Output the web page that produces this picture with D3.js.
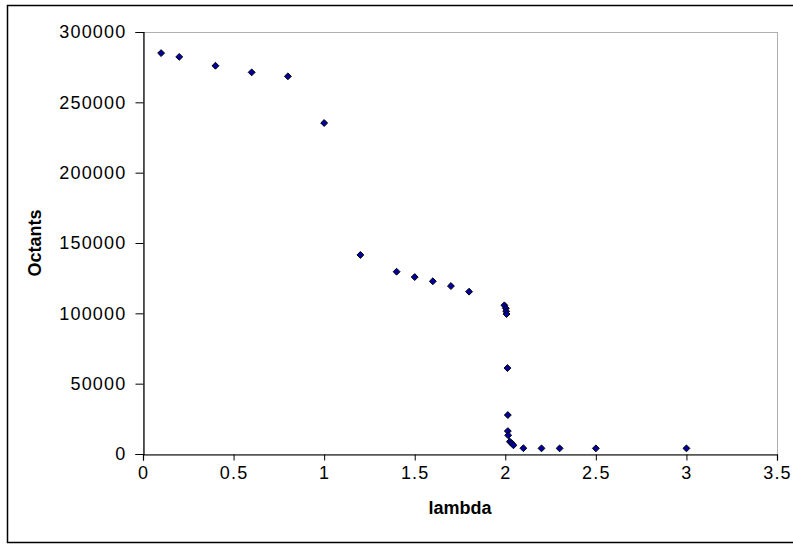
<!DOCTYPE html>
<html>
<head>
<meta charset="utf-8">
<script src="https://cdn.jsdelivr.net/npm/d3@7"></script>
<style>
  body { margin: 0; background: #fff; overflow: hidden; }
  svg { display: block; font-family: "Liberation Sans", Arial, sans-serif; }
</style>
</head>
<body>
<svg id="chart" width="793" height="544"></svg>
<script>
// lambda vs number of octants
var lambdaVals = [0.1, 0.2, 0.4, 0.6, 0.8, 1.0, 1.2, 1.4, 1.5, 1.6, 1.7, 1.8,
  1.995, 2.003, 2.005, 2.007, 2.012, 2.014, 2.014, 2.016, 2.025, 2.035, 2.045,
  2.1, 2.2, 2.3, 2.5, 3.0];
var octantVals = [285000, 282300, 276000, 271300, 268500, 235300, 141500, 129600, 125800, 122800, 119400, 115400,
  105700, 103600, 101400, 99500, 61100, 27700, 16300, 13300, 8800, 7600, 6200,
  4100, 4000, 4000, 4000, 4000];
var xTicks = [0, 0.5, 1, 1.5, 2, 2.5, 3, 3.5];
var yTicks = [0, 50000, 100000, 150000, 200000, 250000, 300000];

var points = lambdaVals.map(function(d, i) { return { x: d, y: octantVals[i] }; });

var svg = d3.select('#chart');
var margin = { left: 143, top: 32, right: 777, bottom: 454 };

// outer chart border (right side falls outside the window)
svg.append('path')
  .attr('d', 'M793,5.5 H7.5 V542.5 H793')
  .attr('fill', 'none').attr('stroke', '#000').attr('stroke-width', 1.5);

var x = d3.scaleLinear().domain([0, 3.5]).range([margin.left, margin.right]);
var y = d3.scaleLinear().domain([0, 300000]).range([margin.bottom, margin.top]);

// plot area frame
svg.append('rect')
  .attr('x', margin.left + 0.5).attr('y', margin.top + 0.5)
  .attr('width', margin.right - margin.left).attr('height', margin.bottom - margin.top)
  .attr('fill', 'none').attr('stroke', '#b0b0b0').attr('stroke-width', 1);

var xAxis = svg.append('g')
  .attr('transform', 'translate(0,' + (margin.bottom + 0.5) + ')')
  .call(d3.axisBottom(x).tickValues(xTicks).tickSize(6).tickPadding(6)
    .tickFormat(function(d) { return String(d); }));

var yAxis = svg.append('g')
  .attr('transform', 'translate(' + (margin.left + 0.5) + ',0)')
  .call(d3.axisLeft(y).tickValues(yTicks).tickSize(8).tickPadding(9)
    .tickFormat(function(d) { return String(d); }));

[xAxis, yAxis].forEach(function(g) {
  g.select('.domain').attr('stroke', '#000').attr('stroke-width', 1.2);
  g.selectAll('.tick line').attr('stroke', '#000');
  g.selectAll('.tick text')
    .attr('fill', '#000')
    .style('font-size', '18px')
    .style('letter-spacing', '1.2px')
    .style('font-family', '"Liberation Sans", Arial, sans-serif');
});

// diamond markers
var diamond = d3.symbol().type(d3.symbolDiamond2).size(30);

svg.append('g').selectAll('path')
  .data(points)
  .enter()
  .append('path')
  .attr('d', diamond)
  .attr('transform', function(d) { return 'translate(' + x(d.x) + ',' + y(d.y) + ')'; })
  .attr('fill', '#0000a0')
  .attr('stroke', '#000')
  .attr('stroke-width', 1);

svg.append('text')
  .attr('x', (margin.left + margin.right) / 2)
  .attr('y', 514)
  .attr('text-anchor', 'middle')
  .style('font-size', '18px')
  .style('font-weight', 'bold')
  .text('lambda');

svg.append('text')
  .attr('transform', 'translate(41,' + ((margin.top + margin.bottom) / 2) + ') rotate(-90)')
  .attr('text-anchor', 'middle')
  .style('font-size', '18px')
  .style('font-weight', 'bold')
  .text('Octants');
</script>
</body>
</html>
